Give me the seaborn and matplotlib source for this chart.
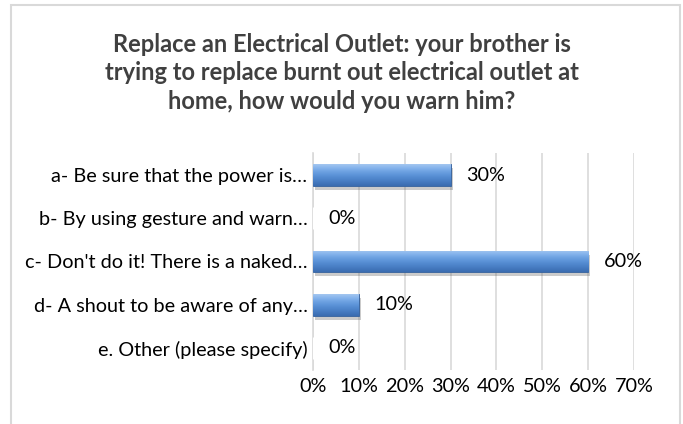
import numpy as np
import pandas as pd
import matplotlib
matplotlib.use("Agg")
import matplotlib.pyplot as plt
import matplotlib.patheffects as pe
from matplotlib.colors import LinearSegmentedColormap
from matplotlib.patches import Rectangle
import seaborn as sns

categories = [
    "a- Be sure that the power is…",
    "b- By using gesture and warn…",
    "c- Don't do it! There is a naked…",
    "d- A shout to be aware of any…",
    "e. Other (please specify)",
]
values = [0.30, 0.0, 0.60, 0.10, 0.0]
value_labels = ["30%", "0%", "60%", "10%", "0%"]
xticks = [0.0, 0.1, 0.2, 0.3, 0.4, 0.5, 0.6, 0.7]
xtick_labels = ["0%", "10%", "20%", "30%", "40%", "50%", "60%", "70%"]
title = ("Replace an Electrical Outlet: your brother is\n"
         "trying to replace burnt out electrical outlet at\n"
         "home, how would you warn him?")

sns.set_theme(style="white")
plt.rcParams['font.family'] = ['Lato', 'DejaVu Sans']

df = pd.DataFrame({"category": categories, "value": values})

fig = plt.figure(figsize=(6.83, 4.24), dpi=100)
ax = fig.add_axes([313/683, 1 - 369.6/424, 321/683, 216.2/424])

sns.barplot(data=df, y="category", x="value", orient="h", ax=ax,
            color="#4F81BD", width=0.5, saturation=1, zorder=3)

ax.set_xlim(0, 0.7)
ax.set_xticks(xticks)
ax.set_xticklabels(xtick_labels, fontsize=14.3, color="#000000")
ax.tick_params(axis="x", length=0, pad=6)
ax.tick_params(axis="y", length=0, pad=4, labelsize=14.3, labelcolor="#000000")
ax.set_xlabel("")
ax.set_ylabel("")
ax.grid(axis="x", color="#D9D9D9", linewidth=1.2, zorder=0)
for s in ["top", "right", "bottom"]:
    ax.spines[s].set_visible(False)
ax.spines["left"].set_color("#D9D9D9")
ax.spines["left"].set_linewidth(1.2)

cmap = LinearSegmentedColormap.from_list(
    "bev", ["#A4C6F0", "#86B4EC", "#6EA2E2", "#5C93D8", "#4F86CC", "#4479BF", "#3A6CB0"])
grad = np.linspace(0, 1, 64).reshape(-1, 1)
for p, lab in zip(ax.patches, value_labels):
    x0, y0 = p.get_x(), p.get_y()
    w, h = p.get_width(), p.get_height()
    if w > 0:
        p.set_edgecolor("#34609C")
        p.set_linewidth(0.6)
        p.set_path_effects([pe.SimplePatchShadow(offset=(1.5, -3), alpha=0.3, shadow_rgbFace="#555555"),
                            pe.Normal()])
        im = ax.imshow(grad, cmap=cmap, aspect="auto",
                       extent=(x0, x0 + w, y0 + h, y0), zorder=4,
                       interpolation="bilinear")
        im.set_clip_path(p)
    ax.annotate(lab, xy=(x0 + w, y0 + h / 2), xytext=(11, 0),
                textcoords="offset points", va="center", ha="left",
                fontsize=14.3, color="#000000", zorder=5)

ax.set_ylim(len(categories) - 0.5, -0.5)

fig.text(0.5, 1 - 73/424, title, ha="center", va="center", fontsize=17,
         fontweight="bold", color="#404040", linespacing=1.3)

fig.patches.append(Rectangle((11/683, -0.02), 669/683, 1 - 5/424 + 0.02,
                             transform=fig.transFigure, fill=False,
                             edgecolor="#D9D9D9", linewidth=1.5))

fig.savefig("out.png", dpi=100)
